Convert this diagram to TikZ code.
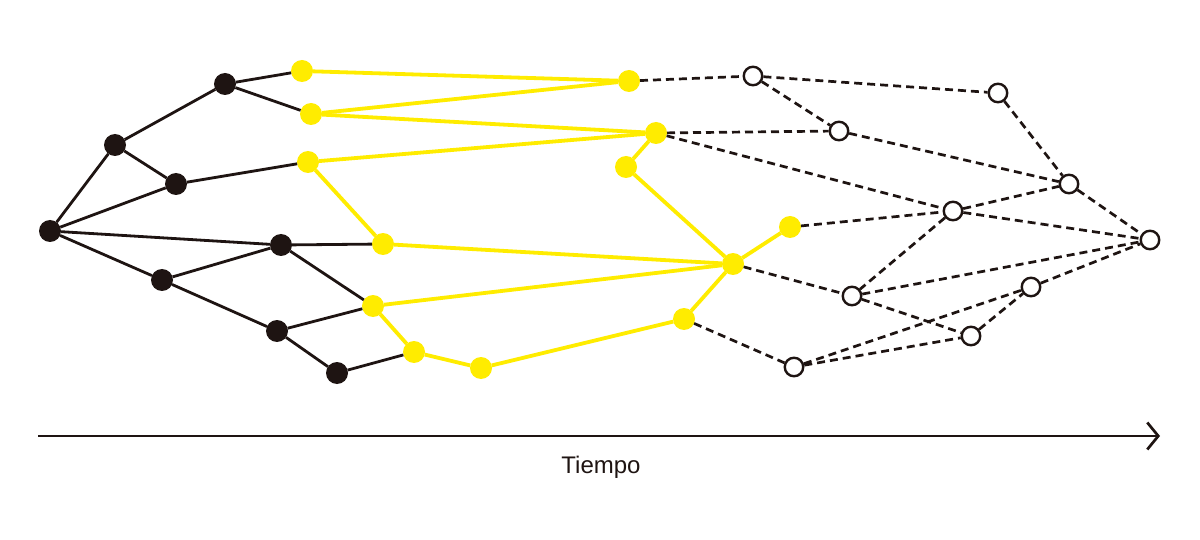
\documentclass[tikz,border=0pt]{standalone}
\usepackage{fontspec}
\setmainfont{Liberation Sans}
\usetikzlibrary{arrows.meta}
\definecolor{ink}{RGB}{30,20,18}
\definecolor{lemon}{RGB}{255,236,0}

\begin{document}
\begin{tikzpicture}[x=1pt,y=-1pt]
      \tikzstyle{past}=[circle, fill=ink, inner sep=0pt, outer sep=0pt, minimum size=22pt]
      \tikzstyle{now}=[circle, fill=lemon, inner sep=0pt, outer sep=0pt, minimum size=22pt]
      \tikzstyle{future}=[circle, draw=ink, fill=white, line width=2.4pt, inner sep=0pt, minimum size=18.5pt]
      \tikzstyle{pastline}=[ink, line width=2.8pt]
      \tikzstyle{nowline}=[lemon, line width=3.8pt]
      \tikzstyle{futureline}=[ink, line width=2.7pt, dash pattern=on 8pt off 5pt]
      \useasboundingbox (0,0) rectangle (1200,540);
      % past
      \node[past] (a) at (50,231) {};
      \node[past] (b) at (115,145) {};
      \node[past] (c) at (225,84) {};
      \node[past] (d) at (176,184) {};
      \node[past] (e) at (162,280) {};
      \node[past] (f) at (281,245) {};
      \node[past] (g) at (277,331) {};
      \node[past] (h) at (337,373) {};
      % present
      \node[now] (n1) at (302,71) {};
      \node[now] (n2) at (311,114) {};
      \node[now] (n3) at (308,162) {};
      \node[now] (n4) at (383,244) {};
      \node[now] (n5) at (373,306) {};
      \node[now] (n6) at (414,352) {};
      \node[now] (n7) at (481,368) {};
      \node[now] (n8) at (629,81) {};
      \node[now] (n9) at (656,133) {};
      \node[now] (n10) at (626,167) {};
      \node[now] (n11) at (733,264) {};
      \node[now] (n12) at (790,227) {};
      \node[now] (n13) at (684,319) {};
      % future
      \node[future] (f1) at (753,76) {};
      \node[future] (f2) at (839,131) {};
      \node[future] (f3) at (998,93) {};
      \node[future] (f4) at (1069,184) {};
      \node[future] (f5) at (953,211) {};
      \node[future] (f6) at (1150,240) {};
      \node[future] (f7) at (852,296) {};
      \node[future] (f8) at (1031,287) {};
      \node[future] (f9) at (971,336) {};
      \node[future] (f10) at (794,367) {};
      % edges
      \foreach \s/\t in {a/b, a/d, a/f, a/e, b/c, b/d, c/n1, c/n2, d/n3, e/f, e/g, f/n4, f/n5, g/n5, g/h, h/n6}
        \draw[pastline] (\s) -- (\t);
      \foreach \s/\t in {n1/n8, n2/n8, n2/n9, n3/n9, n3/n4, n4/n11, n5/n11, n5/n6, n6/n7, n7/n13, n13/n11, n11/n12, n11/n10, n10/n9}
        \draw[nowline] (\s) -- (\t);
      \foreach \s/\t in {n8/f1, f1/f3, f1/f2, n9/f2, n9/f5, f2/f4, f3/f4, f4/f6, f5/f4, f5/f6, n12/f5, f5/f7, n11/f7, f7/f6, f7/f9, f9/f8, f8/f6, f10/f8, f10/f9, n13/f10}
        \draw[futureline] (\s) -- (\t);
      % time axis
      \coordinate (t0) at (38,436);
      \coordinate (t1) at (1160,436);
      \draw[ink, line width=2.7pt, -{Straight Barb[length=11pt, width=27pt, line width=2.7pt]}] (t0) -- (t1);
      \node[ink, anchor=base, font=\fontsize{24}{28}\selectfont] (tiempo) at (601,473) {Tiempo};
\end{tikzpicture}
\end{document}
